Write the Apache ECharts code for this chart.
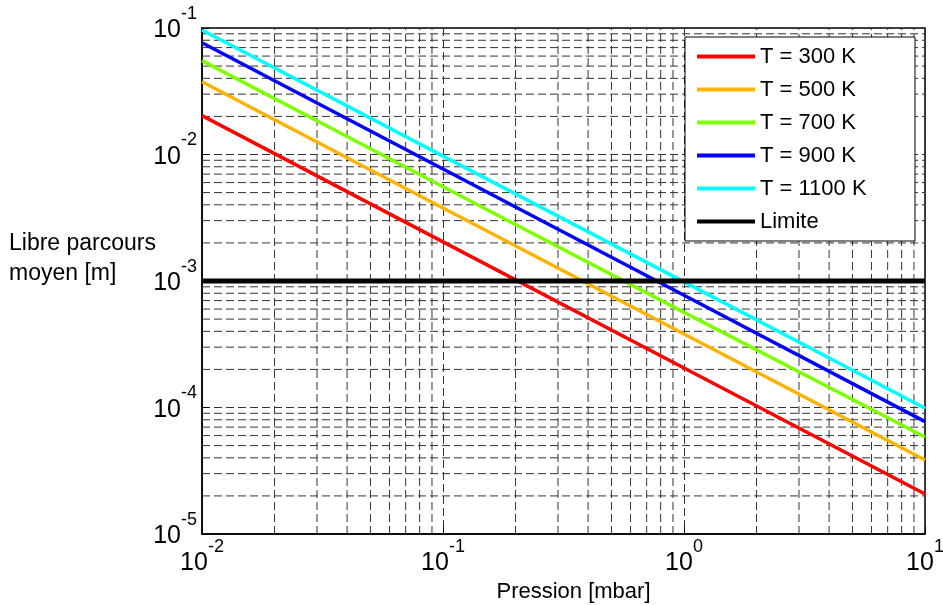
<!DOCTYPE html>
<html>
<head>
<meta charset="utf-8">
<script src="https://cdn.jsdelivr.net/npm/echarts@6/dist/echarts.min.js"></script>
<style>
  html, body { margin: 0; padding: 0; background: #fff; }
  #chart { width: 943px; height: 605px; }
</style>
</head>
<body>
<div id="chart"></div>
<script>
// Pressure samples (mbar), one per decade
const pressure = [0.01, 0.1, 1, 10];

// Mean free path (m) for each gas temperature
const lpm300 = [0.0203, 0.00204, 0.000205, 0.0000207];
const lpm500 = [0.0376, 0.00378, 0.000381, 0.0000385];
const lpm700 = [0.0552, 0.00556, 0.000565, 0.0000585];
const lpm900 = [0.0765, 0.00768, 0.000772, 0.0000773];
const lpm1100 = [0.0964, 0.00970, 0.000985, 0.0000986];

// Limit value (m)
const limite = 0.001;

const seriesNames = ['T = 300 K', 'T = 500 K', 'T = 700 K', 'T = 900 K', 'T = 1100 K', 'Limite'];
const seriesColors = ['#ff0000', '#ffb300', '#80ff00', '#0000ff', '#00ffff', '#000000'];

// Axis ranges (decades)
const xMin = 0.01, xMax = 10;
const yMin = 1e-5, yMax = 1e-1;

// Minor grid positions: 2..9 within each decade
function minorPositions(lo, hi) {
  const out = [];
  let d = lo;
  while (d < hi * 0.999) {
    for (let k = 2; k <= 9; k++) out.push(+(k * d).toPrecision(3));
    d = +(d * 10).toPrecision(3);
  }
  return out;
}
const xMinor = minorPositions(xMin, xMax);
const yMinor = minorPositions(yMin, yMax);

// Minor grid drawn as broken polylines (one segment per grid line)
const vGrid = [];
xMinor.forEach(v => { vGrid.push([v, yMin], [v, yMax], [v, '-']); });
const hGrid = [];
yMinor.forEach(v => { hGrid.push([xMin, v], [xMax, v], ['-', v]); });

const gridStyle = { color: '#333', width: 1, type: [8, 4] };
const FONT = 'Liberation Sans, Arial, sans-serif';

function pow10Label(v) {
  const e = Math.round(Math.log10(v));
  return '{b|10}{s|' + e + '}';
}
const richPow = {
  b: { fontSize: 25, lineHeight: 38, verticalAlign: 'bottom', color: '#000', fontFamily: FONT },
  s: { fontSize: 18, lineHeight: 18, verticalAlign: 'top', color: '#000', fontFamily: FONT }
};

function pairs(ys) { return pressure.map((p, i) => [p, ys[i]]); }

const curves = [lpm300, lpm500, lpm700, lpm900, lpm1100].map((ys, i) => ({
  name: seriesNames[i],
  type: 'line',
  data: pairs(ys),
  showSymbol: false,
  symbol: 'none',
  lineStyle: { color: seriesColors[i], width: 3.5 },
  itemStyle: { color: seriesColors[i] },
  z: 3
}));

function gridSeries(name, data) {
  return {
    name: name,
    type: 'line',
    data: data,
    silent: true,
    showSymbol: false,
    symbol: 'none',
    connectNulls: false,
    lineStyle: gridStyle,
    z: 1
  };
}

const option = {
  animation: false,
  backgroundColor: '#fff',
  textStyle: { fontFamily: FONT },
  title: {
    text: 'Libre parcours\nmoyen [m]',
    left: 9,
    top: 229,
    padding: 0,
    textStyle: { fontSize: 23, lineHeight: 30, fontWeight: 'normal', color: '#000', fontFamily: FONT }
  },
  grid: {
    left: 202, right: 18, top: 28, bottom: 71,
    outerBoundsMode: 'none',
    containLabel: false,
    show: true, borderColor: '#000', borderWidth: 1.5, backgroundColor: '#fff'
  },
  legend: {
    orient: 'vertical',
    left: 685,
    top: 37,
    padding: [8, 15, 8, 12],
    itemWidth: 58,
    itemHeight: 4,
    itemGap: 10,
    icon: 'rect',
    backgroundColor: '#fff',
    borderColor: '#000',
    borderWidth: 1,
    data: seriesNames,
    textStyle: { fontSize: 22, lineHeight: 23, color: '#000', fontFamily: FONT, width: 140 }
  },
  xAxis: {
    type: 'log',
    logBase: 10,
    min: xMin,
    max: xMax,
    name: 'Pression [mbar]',
    nameLocation: 'middle',
    nameGap: 41,
    nameTextStyle: { fontSize: 22, color: '#000', fontFamily: FONT, padding: [0, 0, 0, 20] },
    axisLine: { show: true, lineStyle: { color: '#000', width: 1.5 } },
    axisTick: { show: true, inside: true, length: 7, lineStyle: { color: '#000' } },
    axisLabel: { margin: 4, formatter: pow10Label, rich: richPow },
    splitLine: { show: true, lineStyle: gridStyle }
  },
  yAxis: {
    type: 'log',
    logBase: 10,
    min: yMin,
    max: yMax,
    axisLine: { show: true, lineStyle: { color: '#000', width: 1.5 } },
    axisTick: { show: true, inside: true, length: 7, lineStyle: { color: '#000' } },
    axisLabel: { margin: 5, padding: [0, 0, 8, 0], formatter: pow10Label, rich: richPow },
    splitLine: { show: true, lineStyle: gridStyle }
  },
  series: [
    gridSeries('minor-x', vGrid),
    gridSeries('minor-y', hGrid),
    ...curves,
    {
      name: 'Limite',
      type: 'line',
      data: [[xMin, limite], [xMax, limite]],
      showSymbol: false,
      symbol: 'none',
      lineStyle: { color: '#000', width: 5 },
      itemStyle: { color: '#000' },
      z: 4
    }
  ]
};

const chart = echarts.init(document.getElementById('chart'));
chart.setOption(option);
</script>
</body>
</html>
